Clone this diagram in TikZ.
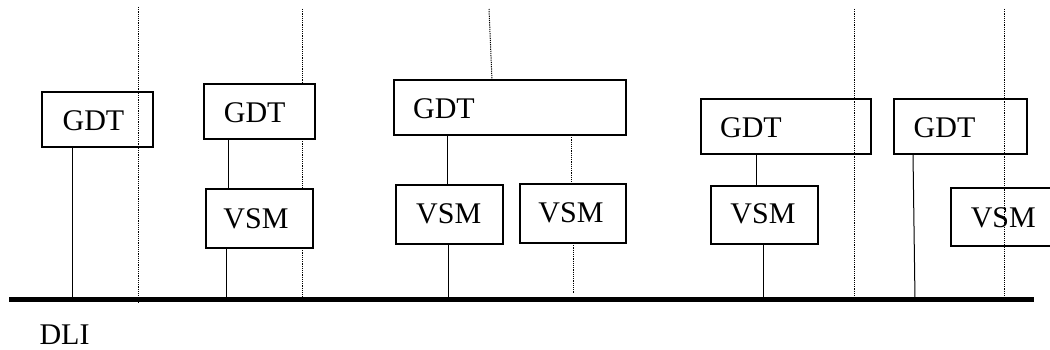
\documentclass[tikz,border=0pt]{standalone}
\usepackage{fontspec}
\setmainfont{Liberation Serif}
\begin{document}
\begin{tikzpicture}[x=1pt,y=-1pt,
  box/.style={draw, line width=1.1pt, inner sep=0pt, outer sep=0pt},
  lbl/.style={inner sep=0pt, font=\fontsize{30}{36}\selectfont},
  conn/.style={line width=1pt},
  guide/.style={line width=1pt, dash pattern=on 1.2pt off 1pt},
  bus/.style={line width=5pt}]
\clip (0,0) rectangle (1050,350);
\fill[white] (0,0) rectangle (1050,350);

% boxes
\node[box, minimum width=111pt, minimum height=55pt] (g1) at (97.5,119.5) {};
\node[box, minimum width=111pt, minimum height=55pt] (g2) at (259.5,111.5) {};
\node[box, minimum width=107pt, minimum height=59pt] (v1) at (259.5,218.5) {};
\node[box, minimum width=232pt, minimum height=55pt] (g3) at (510,107.5) {};
\node[box, minimum width=107pt, minimum height=59pt] (v2) at (449.5,214.5) {};
\node[box, minimum width=106pt, minimum height=59pt] (v3) at (573,213.5) {};
\node[box, minimum width=170pt, minimum height=55pt] (g4) at (786,126.5) {};
\node[box, minimum width=107pt, minimum height=58pt] (v4) at (764.5,215) {};
\node[box, minimum width=133pt, minimum height=55pt] (g5) at (960.5,126.5) {};
\node[box, minimum width=110pt, minimum height=58pt] (v5) at (1006,217) {};

% labels
\node[lbl] (g1t) at (93.5,121.2) {GDT};
\node[lbl] (g2t) at (254.7,112.5) {GDT};
\node[lbl] (v1t) at (256,219) {VSM};
\node[lbl] (g3t) at (444,108.7) {GDT};
\node[lbl] (v2t) at (448.7,214.2) {VSM};
\node[lbl] (v3t) at (571,213) {VSM};
\node[lbl] (g4t) at (751,128) {GDT};
\node[lbl] (v4t) at (763,214) {VSM};
\node[lbl] (g5t) at (944.5,128) {GDT};
\node[lbl] (v5t) at (1003.3,217.8) {VSM};
\node[lbl] (dli) at (64.5,335) {DLI};

% bus
\coordinate (busL) at (9,299.5);
\coordinate (busR) at (1034,299.5);

% guide lines (dotted)
\coordinate (d1a) at (138,7);   \coordinate (d1b) at (138,302);
\draw[guide] (d1a) -- (d1b);
\coordinate (d2a) at (302,9);
\draw[guide] (d2a) -- (d2a |- g2.north);
\draw[guide] (d2a |- g2.south) -- (d2a |- v1.north);
\coordinate (d2b) at (302,297);
\draw[guide] (d2a |- v1.south) -- (d2b);
\coordinate (d3a) at (489,9); \coordinate (d3b) at (492,0);
\draw[guide] (d3a) -- (d3b |- g3.north);
\coordinate (d4a) at (571,0);
\draw[guide] (d4a |- g3.south) -- (d4a |- v3.north);
\coordinate (d4b) at (573,293);
\draw[guide] (d4b |- v3.south) -- (d4b);
\coordinate (d5a) at (854,9); \coordinate (d5b) at (854,296);
\draw[guide] (d5a) -- (d5b);
\coordinate (d6a) at (1004,9); \coordinate (d6b) at (1004,296);
\draw[guide] (d6a) -- (d6b);

% solid connectors
\coordinate (b1) at (72,299.5);
\draw[conn] (b1 |- g1.south) -- (b1);
\coordinate (c2) at (228,0);
\draw[conn] (c2 |- g2.south) -- (c2 |- v1.north);
\coordinate (b2) at (226,299.5);
\draw[conn] (b2 |- v1.south) -- (b2);
\coordinate (c3) at (447,0);
\draw[conn] (c3 |- g3.south) -- (c3 |- v2.north);
\coordinate (b3) at (448,299.5);
\draw[conn] (b3 |- v2.south) -- (b3);
\coordinate (c4) at (756,0);
\draw[conn] (c4 |- g4.south) -- (c4 |- v4.north);
\coordinate (b4) at (763,299.5);
\draw[conn] (b4 |- v4.south) -- (b4);
\coordinate (t5) at (913,154);
\coordinate (b5) at (915,299.5);
\draw[conn] (t5) -- (b5);

\draw[bus] (busL) -- (busR);
\end{tikzpicture}
\end{document}
